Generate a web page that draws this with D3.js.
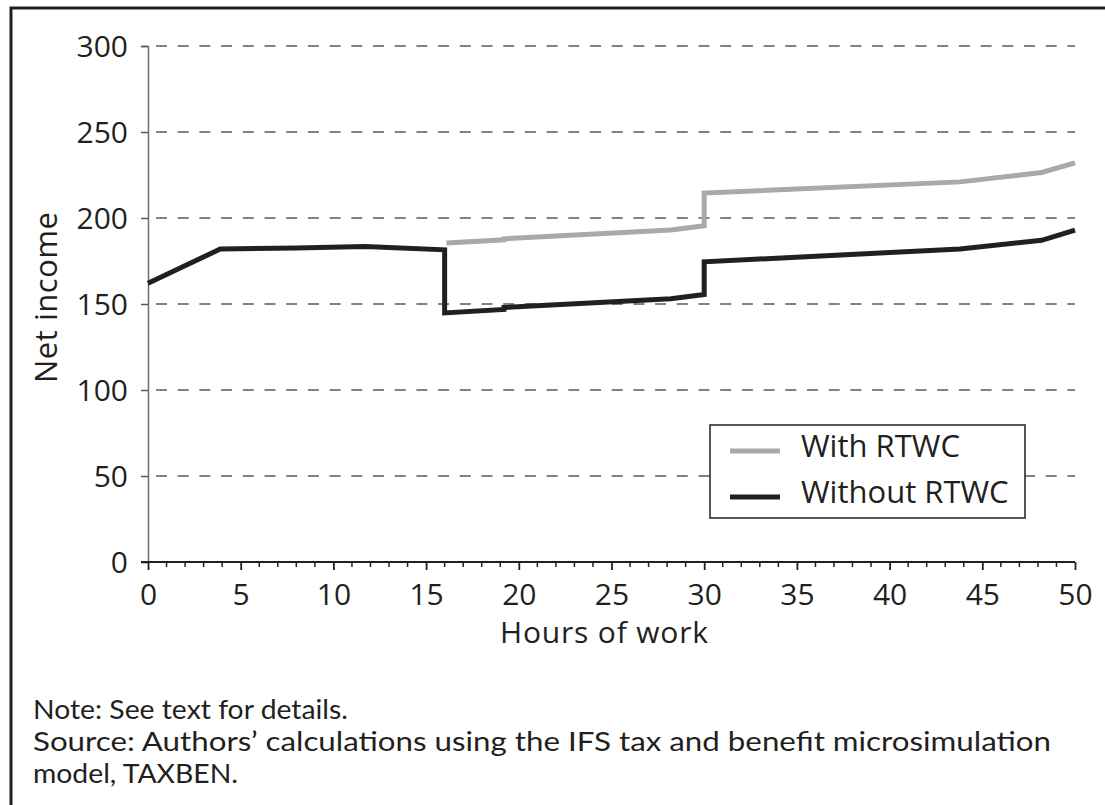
<!DOCTYPE html>
<html><head><meta charset="utf-8">
<script src="https://cdn.jsdelivr.net/npm/d3@7"></script>
<style>
html,body{margin:0;padding:0;background:#fff;}
svg{display:block;}
text{font-family:"Open Sans",sans-serif;fill:#231f20;}
</style></head>
<body>
<svg id="c" width="1105" height="805"></svg>
<script>
const hoursWithout = [0, 3.9, 8, 11.7, 16.0, 16.0, 19.2, 19.2, 28.2, 30.0, 30.0, 43.8, 48.2, 50];
const incomeWithout = [162, 182, 182.6, 183.4, 181.5, 144.8, 146.8, 148.0, 153, 155.5, 174.5, 182, 187, 193];
const hoursWith = [16.1, 19.2, 19.2, 28.2, 30.0, 30.0, 43.8, 48.2, 50];
const incomeWith = [185.5, 187.3, 187.9, 193, 195.5, 214.5, 221, 226.5, 232];
const yTicks = [0, 50, 100, 150, 200, 250, 300];
const xTicks = [0, 5, 10, 15, 20, 25, 30, 35, 40, 45, 50];
const seriesNames = ["With RTWC", "Without RTWC"];
const seriesColors = ["#a7a9ac", "#231f20"];
const noteLines = ["Note: See text for details.",
  "Source: Authors\u2019 calculations using the IFS tax and benefit microsimulation",
  "model, TAXBEN."];

const svg = d3.select("#c");
const L = 148, R = 1075, T = 46, B = 562;
const x = d3.scaleLinear().domain([0, 50]).range([L, R]);
const y = d3.scaleLinear().domain([0, 300]).range([B, T]);

// frame
svg.append("path").attr("d", "M11,805V8H1110").attr("fill", "none")
  .attr("stroke", "#231f20").attr("stroke-width", 3);

// gridlines
svg.append("g").selectAll("line").data(yTicks.filter(d => d > 0)).join("line")
  .attr("x1", L).attr("x2", R).attr("y1", d => y(d)).attr("y2", d => y(d))
  .attr("stroke", "#58595b").attr("stroke-width", 1.6)
  .attr("stroke-dasharray", "11,10.7").attr("stroke-dashoffset", -8);

// y axis
const gy = svg.append("g").attr("transform", `translate(${L},0)`)
  .call(d3.axisLeft(y).tickValues(yTicks).tickSize(7).tickPadding(13));
gy.select(".domain").attr("stroke", "#6d6e71").attr("stroke-width", 1.5);
gy.selectAll(".tick line").attr("stroke", "#58595b").attr("stroke-width", 1.5);
gy.selectAll("text").style("font-size", "30px").attr("fill", "#231f20").attr("dy", "0.36em");

// x axis
const gx = svg.append("g").attr("transform", `translate(0,${B})`)
  .call(d3.axisBottom(x).tickValues(xTicks).tickSize(8).tickPadding(6).tickSizeOuter(0));
gx.select(".domain").remove();
gx.append("line").attr("x1", 141).attr("x2", R).attr("stroke", "#231f20").attr("stroke-width", 2);
gx.selectAll(".tick line").attr("stroke", "#231f20").attr("stroke-width", 1.8);
gx.selectAll("text").style("font-size", "30px").attr("fill", "#231f20").attr("dy", "0.95em");
gx.append("g").selectAll("line").data(d3.range(0, 51).filter(d => d % 5 !== 0)).join("line")
  .attr("x1", d => x(d)).attr("x2", d => x(d)).attr("y1", 0).attr("y2", 5)
  .attr("stroke", "#231f20").attr("stroke-width", 1.5);

// axis titles
svg.append("text").attr("x", 500).attr("y", 643)
  .style("font-size", "30px").attr("textLength", 208).attr("lengthAdjust", "spacing").text("Hours of work");
svg.append("text").attr("transform", "translate(57,383) rotate(-90)")
  .style("font-size", "31px").attr("textLength", 171).attr("lengthAdjust", "spacing").text("Net income");

// lines
const line = d3.line().x(d => x(d[0])).y(d => y(d[1]));
const dWith = hoursWith.map((h, i) => [h, incomeWith[i]]);
const dWithout = hoursWithout.map((h, i) => [h, incomeWithout[i]]);
svg.append("path").datum(dWith).attr("d", line).attr("fill", "none")
  .attr("stroke", seriesColors[0]).attr("stroke-width", 5).attr("stroke-linejoin", "miter");
svg.append("path").datum(dWithout).attr("d", line).attr("fill", "none")
  .attr("stroke", seriesColors[1]).attr("stroke-width", 5).attr("stroke-linejoin", "miter");

// legend
const lg = svg.append("g");
lg.append("rect").attr("x", 710).attr("y", 425).attr("width", 315).attr("height", 93)
  .attr("fill", "#fff").attr("stroke", "#231f20").attr("stroke-width", 1.5);
seriesNames.forEach((n, i) => {
  const yy = 451 + i * 46;
  lg.append("line").attr("x1", 730).attr("x2", 780).attr("y1", yy).attr("y2", yy)
    .attr("stroke", seriesColors[i]).attr("stroke-width", 5);
  lg.append("text").attr("x", 801).attr("y", yy + 6).style("font-size", "31px").text(n);
});

// notes
const noteWidths = [315, 1018, 205];
noteLines.forEach((t, i) => {
  svg.append("text").attr("x", 33).attr("y", 719 + i * 32)
    .style("font-family", "Lato, sans-serif").style("font-size", "26.5px")
    .attr("textLength", noteWidths[i]).attr("lengthAdjust", "spacingAndGlyphs").text(t);
});
</script>
</body></html>
